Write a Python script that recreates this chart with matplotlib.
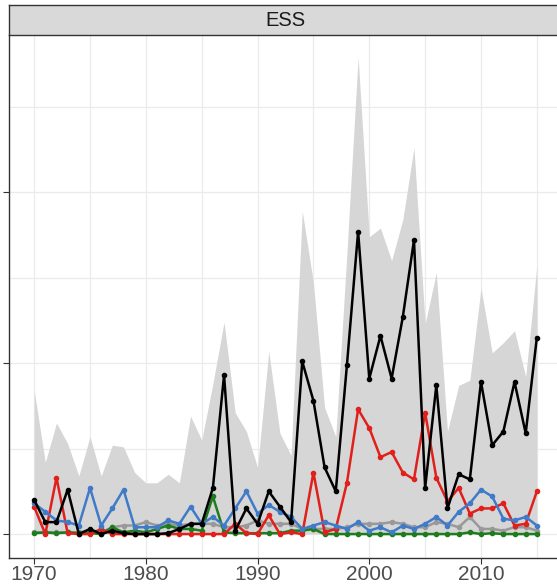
import matplotlib
matplotlib.use("Agg")
import matplotlib.pyplot as plt

years = list(range(1970, 2016))

ribbon_hi = [84, 42, 65, 53, 34, 57, 34, 52, 51, 36,
             30, 30, 35, 30, 69, 55, 88, 124, 71, 60,
             39, 107, 59, 46, 189, 147, 74, 57, 165, 279,
             174, 179, 160, 184, 226, 123, 153, 60, 87, 90,
             144, 106, 112, 119, 92, 157]
ribbon_lo = [0] * len(years)

black = [20, 7, 7, 26, 0, 3, 0, 2, 0.5, 0,
         0, 0, 0.5, 3, 6, 6, 27, 93, 2, 15,
         6, 25, 16, 7, 101, 78, 39, 25, 99, 177,
         91, 116, 91, 127, 172, 27, 87, 15, 35, 32,
         89, 52, 60, 89, 59, 115]
red = [16, 0, 33, 0.5, 0, 0, 3, 0, 0, 0,
       0, 0, 0, 0, 0, 0, 0, 0, 6, 0.5,
       0, 11, 0, 1, 0, 36, 1, 3, 30, 73,
       62, 45, 48, 36, 32, 71, 33, 19, 27, 12,
       15, 15, 18, 5, 6, 25]
blue = [18, 13, 8, 7, 5, 27, 5, 15, 26, 4,
        4, 4, 8, 6, 16, 6, 10, 5, 15, 25,
        12, 17, 13, 10, 3, 5, 7, 5, 3, 7,
        2, 4, 1, 5, 3, 6, 10, 5, 13, 18,
        26, 22, 9, 8, 10, 5]
green = [0.5, 1, 0.5, 1, 0.5, 0.5, 0, 4, 1, 2,
         1, 3, 5, 3, 3, 2, 22, 1, 0.5, 0.5,
         0.5, 0.5, 0.5, 2, 2, 3, 0, 0, 0, 0,
         0, 0, 0, 0, 0, 0, 0, 0, 0, 1,
         0, 0.5, 0, 0, 0, 0]
grey = [1, 1, 1, 1, 1, 2, 1, 4, 5, 5,
        7, 5, 6, 5, 6, 6, 6, 4, 4, 5,
        8, 6, 6, 6, 3, 3, 3, 3, 4, 6,
        6, 6, 7, 6, 4, 4, 7, 6, 4, 10,
        3, 3, 2, 4, 4, 2]

x_ticks = [1970, 1980, 1990, 2000, 2010]
y_ticks = [0, 100, 200]
strip_title = "ESS"

W, H = 557, 584
fig = plt.figure(figsize=(W / 100, H / 100), dpi=100)
left, right = 9 / W, 562 / W
bottom, top = 1 - 558 / H, 1 - 35 / H
ax = fig.add_axes([left, bottom, right - left, top - bottom])

ax.set_xlim(1967.75, 2017.25)
ax.set_ylim(-14, 292)

# grid
for gx in range(1970, 2016, 5):
    ax.axvline(gx, color="#EBEBEB", lw=0.9, zorder=0)
for gy in [0, 50, 100, 150, 200, 250]:
    ax.axhline(gy, color="#EBEBEB", lw=0.9, zorder=0)

ax.fill_between(years, ribbon_lo, ribbon_hi, color="#D6D6D6", lw=0, zorder=1)

series = [(grey, "#999999"), (green, "#1E7B1E"), (red, "#E0201B"),
          (blue, "#3F7BC8"), (black, "#000000")]
for vals, col in series:
    ax.plot(years, vals, color=col, lw=1.8, marker="o", markersize=3.0,
            zorder=3, solid_joinstyle="round")

ax.set_xticks(x_ticks)
ax.set_xticklabels([str(v) for v in x_ticks], fontsize=15, color="#4D4D4D",
                   family="Liberation Sans")
ax.set_yticks(y_ticks)
ax.set_yticklabels([])
ax.tick_params(axis="both", length=4, width=0.8, color="#333333")
ax.tick_params(axis="x", pad=1)

for side in ["top", "right"]:
    ax.spines[side].set_visible(False)
for side in ["left", "bottom"]:
    ax.spines[side].set_color("#333333")
    ax.spines[side].set_linewidth(1.0)

# strip
sax = fig.add_axes([left, 1 - 35 / H, right - left, 30 / H])
sax.set_facecolor("#D9D9D9")
sax.set_xticks([])
sax.set_yticks([])
for s in sax.spines.values():
    s.set_color("#333333")
    s.set_linewidth(1.0)
sax.text(0.5, 0.5, strip_title, transform=sax.transAxes, ha="center",
         va="center", fontsize=14.5, color="#1A1A1A", family="Liberation Sans")

fig.savefig("out.png", dpi=100)
